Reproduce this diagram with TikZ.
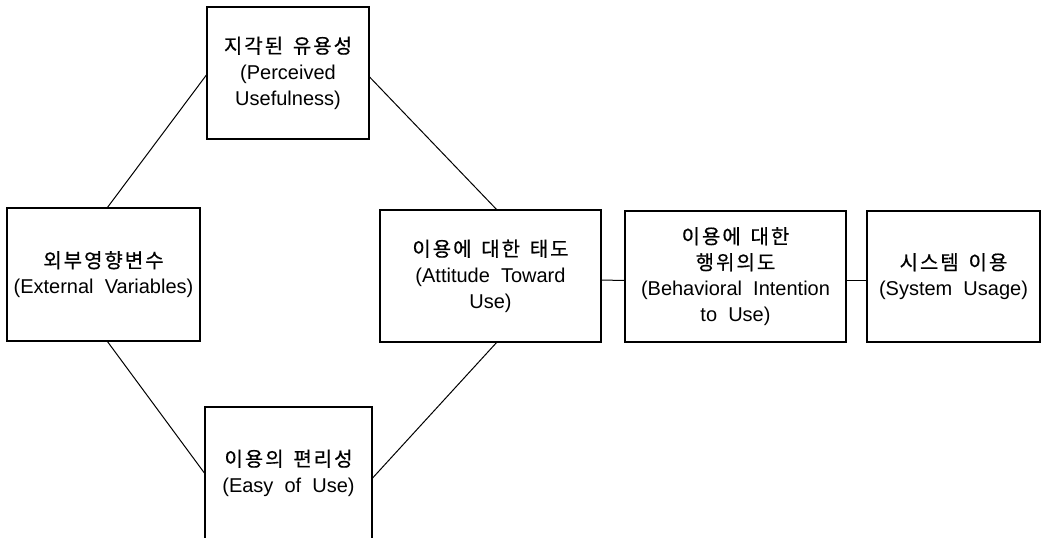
\documentclass[tikz,border=0pt]{standalone}
\usepackage{fontspec}
\setmainfont[WordSpace=2]{Liberation Sans}
\newfontfamily\kr[FakeBold=0.6,LetterSpace=10,WordSpace=1.5]{Noto Sans CJK KR}
\usepackage{tikz}

\begin{document}
\begin{tikzpicture}[x=0.5pt,y=-0.5pt,
    box/.style={draw,line width=0.6pt,inner sep=0pt,align=center,
      font=\fontsize{10}{13}\selectfont},
    link/.style={line width=0.5pt}]
  \clip (0,0) rectangle (1041,537);

  \node [box,minimum width=81pt,minimum height=66pt] (pu) at (288,73)
    {{\kr 지각된 유용성}\\(Perceived\\Usefulness)};
  \node [box,minimum width=96.5pt,minimum height=66.5pt] (ev) at (103.5,274.5)
    {{\kr 외부영향변수}\\(External Variables)};
  \node [box,minimum width=110.5pt,minimum height=66pt] (atu) at (490.5,276)
    {{\kr 이용에 대한 태도}\\(Attitude Toward\\Use)};
  \node [box,minimum width=110.5pt,minimum height=65.5pt] (bi) at (735.5,276.5)
    {{\kr 이용에 대한}\\{\kr 행위의도}\\(Behavioral Intention\\to Use)};
  \node [box,minimum width=86.5pt,minimum height=65.5pt] (su) at (953.5,276.5)
    {{\kr 시스템 이용}\\(System Usage)};
  \node [box,minimum width=83.5pt,minimum height=66pt] (eu) at (288.5,473)
    {{\kr 이용의 편리성}\\(Easy of Use)};

  \draw [link] ([xshift=2pt]ev.north) -- ([yshift=-1pt]pu.west);
  \draw [link] ([yshift=-2pt]pu.east) -- ([xshift=3pt]atu.north);
  \draw [link] ([xshift=2pt]ev.south) -- (eu.west);
  \draw [link] ([yshift=-2.5pt]eu.east) -- ([xshift=3pt]atu.south);
  \draw [link] ([yshift=-2pt]atu.east) -- ([yshift=-2pt]bi.west);
  \draw [link] ([yshift=-2pt]bi.east) -- ([yshift=-2pt]su.west);
\end{tikzpicture}
\end{document}
